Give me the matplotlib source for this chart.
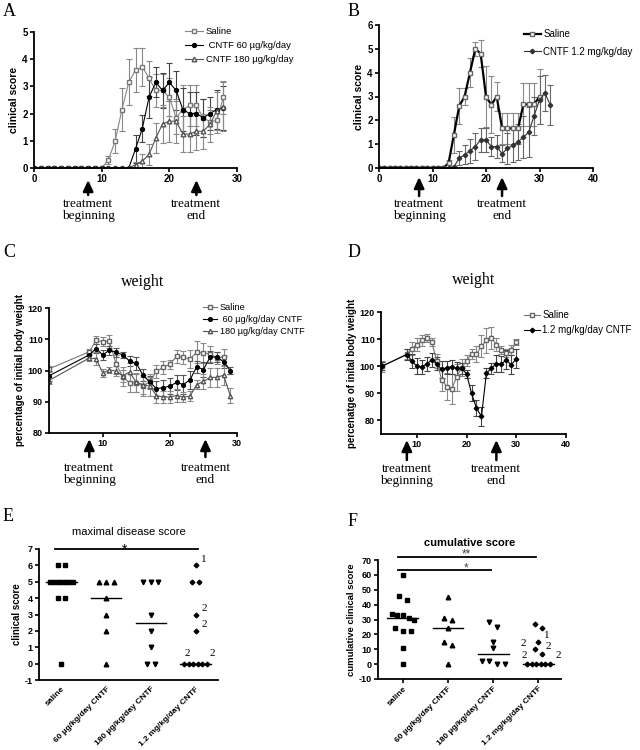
import numpy as np
import matplotlib
matplotlib.use('Agg')
import matplotlib.pyplot as plt
from matplotlib.transforms import blended_transform_factory

plt.rcParams['font.family'] = ['Liberation Sans', 'DejaVu Sans']
SERIF = ['Liberation Serif', 'DejaVu Serif']

# ---------------- Panel A: clinical score ----------------
A_days = np.arange(0, 29)
A_saline = [0, 0, 0, 0, 0, 0, 0, 0, 0, 0, 0, 0.3, 1.0, 2.15, 3.15, 3.6, 3.72, 3.3, 2.85, 2.85,
            2.6, 1.85, 2.15, 2.3, 2.3, 1.85, 1.7, 1.75, 2.6]
A_saline_err = [0, 0, 0, 0, 0, 0, 0, 0, 0, 0, 0, 0.15, 0.45, 0.8, 0.85, 0.8, 0.7, 0.65, 0.6, 0.6,
                0.7, 0.6, 0.9, 0.75, 0.75, 0.7, 0.45, 0.45, 0.6]
A_c60 = [0, 0, 0, 0, 0, 0, 0, 0, 0, 0, 0, 0, 0, 0, 0, 0.7, 1.45, 2.6, 3.15, 2.85, 3.15, 2.85,
         2.15, 2.0, 2.0, 1.85, 2.0, 2.15, 2.2]
A_c60_err = [0, 0, 0, 0, 0, 0, 0, 0, 0, 0, 0, 0, 0, 0, 0, 0.5, 0.5, 0.75, 0.55, 0.65, 0.7, 0.7,
             0.8, 0.8, 0.8, 0.7, 0.6, 0.7, 0.8]
A_c180 = [0, 0, 0, 0, 0, 0, 0, 0, 0, 0, 0, 0, 0, 0, 0, 0.12, 0.25, 0.5, 1.1, 1.62, 1.72, 1.72,
          1.25, 1.25, 1.35, 1.35, 1.6, 2.1, 2.25]
A_c180_err = [0, 0, 0, 0, 0, 0, 0, 0, 0, 0, 0, 0, 0, 0, 0, 0.1, 0.25, 0.4, 0.55, 0.7, 0.75, 0.8,
              0.65, 0.65, 0.7, 0.65, 0.65, 0.7, 0.9]
A_labels = ['Saline', ' CNTF 60 µg/kg/day', 'CNTF 180 µg/kg/day']

# ---------------- Panel B: clinical score ----------------
B_days_saline = np.arange(0, 31)
B_saline = [0, 0, 0, 0, 0, 0, 0, 0, 0, 0, 0, 0, 0, 0.2, 1.4, 2.6, 3.0, 4.0, 5.0, 4.8, 3.0, 2.65,
            3.0, 1.67, 1.67, 1.67, 1.67, 2.67, 2.67, 2.67, 3.0]
B_saline_err = [0, 0, 0, 0, 0, 0, 0, 0, 0, 0, 0, 0, 0, 0.15, 0.75, 0.75, 0.35, 0.6, 0.3, 0.55,
                1.3, 1.2, 0.6, 0.65, 0.65, 0.65, 0.65, 0.9, 0.9, 0.9, 1.15]
B_days_cntf = np.arange(0, 33)
B_cntf = [0, 0, 0, 0, 0, 0, 0, 0, 0, 0, 0, 0, 0, 0, 0.05, 0.42, 0.55, 0.72, 0.9, 1.18, 1.18, 0.9,
          0.9, 0.6, 0.82, 0.95, 1.1, 1.3, 1.5, 2.2, 2.85, 3.15, 2.65]
B_cntf_err = [0, 0, 0, 0, 0, 0, 0, 0, 0, 0, 0, 0, 0, 0, 0.05, 0.3, 0.4, 0.5, 0.55, 0.5, 0.5, 0.4,
              0.5, 0.35, 0.65, 0.7, 0.75, 0.9, 1.05, 0.8, 1.0, 0.75, 0.85]
B_labels = ['Saline', 'CNTF 1.2 mg/kg/day']

# ---------------- Panel C: weight ----------------
C_days_saline = [2, 8, 9, 10, 11, 12, 13, 14, 15, 16, 17, 18, 19, 20, 21, 22, 23, 24, 25, 26, 27, 28]
C_days_cntf = [2, 8, 9, 10, 11, 12, 13, 14, 15, 16, 17, 18, 19, 20, 21, 22, 23, 24, 25, 26, 27, 28, 29]
C_saline = [100.5, 106, 109.7, 109.2, 109.3, 102, 98, 96, 96, 95, 96.5, 99.7, 101, 102, 104.5,
            104.2, 103.7, 105.8, 105.6, 105.3, 104, 104.3]
C_saline_err = [1, 0.8, 1.2, 1.5, 2, 3, 3, 3, 3, 3, 2.5, 2, 2, 1.5, 2, 2, 3, 3.5, 3.2, 2.5, 2, 2.5]
C_c60 = [98.3, 105, 107, 105, 106.5, 105.8, 105, 103, 102.3, 98.5, 96.3, 94.2, 94.5, 95, 96.2,
         95.5, 97, 101.2, 100.3, 104.3, 104.3, 102.8, 100]
C_c60_err = [1.5, 1, 1.5, 1.5, 1.5, 1.5, 1, 1.5, 2, 2, 2, 2.5, 2.5, 2.5, 2.5, 3, 3, 2, 2.5, 2,
             1.5, 2, 1.2]
C_c180 = [96.8, 104, 103.8, 99.2, 100.2, 99.8, 98.3, 99.5, 96.2, 95.5, 95, 92, 91.5, 91.5, 92,
          91.5, 91.8, 95.5, 96.5, 97.8, 97.8, 98.5, 92]
C_c180_err = [1, 1, 2, 1.2, 1, 1.5, 2, 3, 3, 3, 3, 2.5, 2, 2, 2, 1.5, 1.5, 1.5, 2.5, 3, 3, 3, 2.5]
C_labels = ['Saline', ' 60 µg/kg/day CNTF', '180 µg/kg/day CNTF']

# ---------------- Panel D: weight ----------------
D_days = [3, 8, 9, 10, 11, 12, 13, 14, 15, 16, 17, 18, 19, 20, 21, 22, 23, 24, 25, 26, 27, 28, 29, 30]
D_saline = [100, 104.5, 106.5, 108, 109.5, 110.5, 109, 102, 95, 92.5, 91.5, 96, 99.5, 102, 104.5,
            104.5, 107.5, 109.5, 110.5, 108, 106, 105, 106, 109]
D_saline_err = [2, 2, 2.5, 2.5, 2, 1.5, 1.5, 2.5, 4, 5, 5.5, 5, 3, 2, 2, 3, 4, 4.5, 4, 2.5, 1.5,
                1.5, 2, 1]
D_cntf = [100, 104.3, 102, 100, 99.8, 100.8, 102.3, 101, 98.8, 99.5, 99.8, 99.2, 99.2, 97.2, 90,
          84.5, 81.5, 97.5, 99.2, 101, 100.8, 102.3, 100.5, 102.8]
D_cntf_err = [1.5, 2, 2.5, 3, 2.5, 2.5, 2.5, 2.5, 3, 2.5, 2.5, 2.5, 2, 1.5, 3, 3, 3.5, 2, 2, 3, 3,
              3.5, 3.5, 3.5]
D_labels = ['Saline', '1.2 mg/kg/day CNTF']

# ---------------- Panels E, F: dot plots ----------------
groups = ['saline', '60 µg/kg/day CNTF', '180 µg/kg/day CNTF', '1.2 mg/kg/day CNTF']
E_saline = [6, 6, 5, 5, 5, 5, 5, 5, 5, 5, 4, 4, 0]
E_c60 = [5, 5, 5, 4, 3, 2, 0]
E_c180 = [5, 5, 5, 3, 2, 1, 0, 0]
E_c12 = [6, 5, 5, 3, 2, 0, 0, 0, 0, 0, 0]
E_medians = [5, 4, 2.5, 0]

F_saline = [60, 46, 43, 34, 33, 33, 31, 30, 24, 22, 22, 11, 0]
F_c60 = [45, 31, 30, 24, 15, 13, 0]
F_c180 = [28, 25, 15, 11, 2, 2, 0, 0]
F_c12 = [27, 24, 15, 10, 7, 0, 0, 0, 0, 0, 0]
F_medians = [31, 24, 6.5, 0]

# annotations: (group index, value, text, dx pts, dy pts)
E_notes = [(3, 6, '1', 4, 1), (3, 3, '2', 4, 1), (3, 2, '2', 4, 1), (3, 0, '2', -4, 4), (3, 0, '2', 10, 4)]
F_notes = [(3, 15, '1', 4, 1), (3, 10, '2', -9, 1), (3, 7, '2', 5, 2), (3, 0, '2', -8, 3), (3, 0, '2', 12, 3)]

W, H = 640, 750
fig = plt.figure(figsize=(W / 100, H / 100), dpi=100)


def px_axes(l, t, r, b):
    return fig.add_axes([l / W, 1 - b / H, (r - l) / W, (b - t) / H])


def style(ax, xt, yt, xlim, ylim, size=6.8):
    for s in ['top', 'right']:
        ax.spines[s].set_visible(False)
    for s in ['left', 'bottom']:
        ax.spines[s].set_linewidth(1.3)
    ax.set_xlim(*xlim)
    ax.set_ylim(*ylim)
    ax.tick_params(direction='out', length=3, width=1.2, pad=1.5)
    if xt is not None:
        ax.set_xticks(xt)
        ax.set_xticklabels([str(v) for v in xt], fontweight='bold', fontsize=size)
    ax.set_yticks(yt)
    ax.set_yticklabels([str(v) for v in yt], fontweight='bold', fontsize=size)


def arrows(ax, xs, texts, head, tail, toptext):
    trans = blended_transform_factory(ax.transData, ax.transAxes)
    hpx = ax.get_position().height * H
    for x, t in zip(xs, texts):
        ax.annotate('', xy=(x, -head / hpx), xycoords=trans, xytext=(x, -tail / hpx), textcoords=trans,
                    arrowprops=dict(arrowstyle='-|>,head_length=0.65,head_width=0.3', color='k', lw=1.8,
                                    mutation_scale=10, shrinkA=0, shrinkB=0), annotation_clip=False)
        ax.text(x, -toptext / hpx, t, transform=trans, ha='center', va='top', family=SERIF,
                fontsize=9.5, linespacing=1.05)


def legend(ax, handles, labels, lx, ty, size, hl, spacing):
    ax.legend(handles, labels, loc='upper left', bbox_to_anchor=(lx / W, 1 - ty / H),
              bbox_transform=fig.transFigure, frameon=False, fontsize=size, handlelength=hl,
              handletextpad=0.3, borderpad=0, borderaxespad=0, labelspacing=spacing, numpoints=1)


eb = dict(capsize=2, elinewidth=0.8, capthick=0.8)
TT = ['treatment\nbeginning', 'treatment\nend']

# ---- A ----
axA = px_axes(34, 32, 237, 168)
a1 = axA.errorbar(A_days, A_saline, yerr=A_saline_err, color='#888888', marker='s', ms=3.3, mfc='white',
                  mec='#777777', lw=0.8, ecolor='#888888', **eb)
a2 = axA.errorbar(A_days, A_c60, yerr=A_c60_err, color='black', marker='o', ms=2.8, lw=0.8,
                  ecolor='#444444', **eb)
a3 = axA.errorbar(A_days, A_c180, yerr=A_c180_err, color='#555555', marker='^', ms=3.3, mfc='white',
                  mec='#555555', lw=0.8, ecolor='#888888', **eb)
style(axA, [0, 10, 20, 30], [0, 1, 2, 3, 4, 5], (0, 30), (0, 5), 7)
axA.set_ylabel('clinical score', fontweight='bold', fontsize=7.5, labelpad=2)
legend(axA, [a1[0], a2[0], a3[0]], A_labels, 185, 27, 6.8, 1.9, 0.55)
arrows(axA, [8, 24], TT, 12, 27, 30)

# ---- B ----
axB = px_axes(379, 25, 593, 168)
b1 = axB.errorbar(B_days_saline, B_saline, yerr=B_saline_err, color='black', marker='s', ms=3.3,
                  mfc='white', mec='#666666', lw=1.6, ecolor='#888888', **eb)
b2 = axB.errorbar(B_days_cntf, B_cntf, yerr=B_cntf_err, color='#333333', marker='D', ms=2.3, lw=0.8,
                  ecolor='#666666', **eb)
style(axB, [0, 10, 20, 30, 40], [0, 1, 2, 3, 4, 5, 6], (0, 40), (0, 6), 7)
axB.set_ylabel('clinical score', fontweight='bold', fontsize=7.5, labelpad=2)
legend(axB, [b1[0], b2[0]], B_labels, 524, 29, 7, 1.7, 0.8)
arrows(axB, [7.5, 23], TT, 9, 28, 30)

# ---- C ----
axC = px_axes(49, 308, 237, 433)
c1 = axC.errorbar(C_days_saline, C_saline, yerr=C_saline_err, color='#777777', marker='s', ms=3.1,
                  mfc='white', mec='#666666', lw=0.8, ecolor='#888888', **eb)
c2 = axC.errorbar(C_days_cntf, C_c60, yerr=C_c60_err, color='black', marker='o', ms=2.7, lw=0.8,
                  ecolor='#555555', **eb)
c3 = axC.errorbar(C_days_cntf, C_c180, yerr=C_c180_err, color='#555555', marker='^', ms=3.1, mfc='white',
                  mec='#555555', lw=0.8, ecolor='#888888', **eb)
style(axC, [10, 20, 30], [80, 90, 100, 110, 120], (2, 30), (80, 120), 6.5)
axC.set_ylabel('percentage of initial body weight', fontweight='bold', fontsize=7, labelpad=2)
axC.set_title('weight', family=SERIF, fontsize=11.5, pad=16)
legend(axC, [c1[0], c2[0], c3[0]], C_labels, 203, 303, 6.6, 1.5, 0.35)
arrows(axC, [8, 25.3], TT, 6, 24, 29)

# ---- D ----
axD = px_axes(381, 312, 566, 434)
d1 = axD.errorbar(D_days, D_saline, yerr=D_saline_err, color='#777777', marker='s', ms=3.1, mfc='white',
                  mec='#666666', lw=0.8, ecolor='#888888', **eb)
d2 = axD.errorbar(D_days, D_cntf, yerr=D_cntf_err, color='black', marker='D', ms=2.3, lw=0.8,
                  ecolor='#444444', **eb)
style(axD, [10, 20, 30, 40], [80, 90, 100, 110, 120], (2.8, 40), (75, 120), 6.5)
axD.set_ylabel('percenatge of inital body weight', fontweight='bold', fontsize=7, labelpad=2)
axD.set_title('weight', family=SERIF, fontsize=11.5, pad=20)
legend(axD, [d1[0], d2[0]], D_labels, 524, 310, 7, 1.6, 0.55)
arrows(axD, [8, 26], TT, 6, 26, 29)


# ---- E, F helpers ----
def swarm(vals, tol, d, maxw):
    vals = np.asarray(vals, float)
    order = np.argsort(-vals, kind='stable')
    offs = np.zeros(len(vals))
    grps, cur = [], [order[0]]
    for i in order[1:]:
        if vals[cur[-1]] - vals[i] <= tol:
            cur.append(i)
        else:
            grps.append(cur)
            cur = [i]
    grps.append(cur)
    for g in grps:
        n = len(g)
        step = d if n < 2 else min(d, maxw / (n - 1))
        for k, idx in enumerate(g):
            offs[idx] = (k - (n - 1) / 2) * step
    return offs


markers = ['s', '^', 'v', 'D']
msizes = [3.0, 3.3, 3.3, 2.4]


def dotplot(ax, data, medians, tol, notes):
    for i, vals in enumerate(data):
        offs = swarm(vals, tol, 0.17, 0.5)
        ax.plot(i + offs, vals, ls='none', marker=markers[i], ms=msizes[i], color='black')
        ax.plot([i - 0.34, i + 0.34], [medians[i], medians[i]], color='black', lw=1)
    for gi, v, t, dx, dy in notes:
        ax.annotate(t, xy=(gi, v), xytext=(dx, dy), textcoords='offset points', family=SERIF,
                    fontsize=8, ha='left' if dx > 0 else 'right', va='bottom')
    ax.set_xticks(range(len(groups)))
    ax.set_xticklabels(groups, rotation=45, ha='right', rotation_mode='anchor', fontweight='bold',
                       fontsize=6)


# ---- E ----
axE = px_axes(39, 549, 218, 680)
dotplot(axE, [E_saline, E_c60, E_c180, E_c12], E_medians, 0.5, E_notes)
style(axE, None, [-1, 0, 1, 2, 3, 4, 5, 6, 7], (-0.5, 3.5), (-1, 7), 6.5)
axE.tick_params(axis='x', length=0, pad=4)
axE.set_ylabel('clinical score', fontweight='bold', fontsize=7, labelpad=2)
axE.set_title('maximal disease score', fontsize=8, pad=10)
axE.plot([-0.15, 3.05], [7, 7], color='black', lw=1.3, clip_on=False)
axE.text(1.4, 6.7, '*', ha='center', va='baseline', fontsize=10, clip_on=False)

# ---- F ----
axF = px_axes(378, 560, 561, 679)
dotplot(axF, [F_saline, F_c60, F_c180, F_c12], F_medians, 3.5, F_notes)
style(axF, None, [-10, 0, 10, 20, 30, 40, 50, 60, 70], (-0.55, 3.5), (-10, 70), 6.5)
axF.tick_params(axis='x', length=3, pad=1.5)
axF.set_ylabel('cumulative clinical score', fontweight='bold', fontsize=6.8, labelpad=2)
axF.set_title('cumulative score', fontsize=8, fontweight='bold', pad=10)
axF.plot([-0.1, 2.95], [72, 72], color='black', lw=1.3, clip_on=False)
axF.plot([-0.1, 1.94], [63.5, 63.5], color='black', lw=1.3, clip_on=False)
axF.text(1.4, 71.5, '**', ha='center', va='baseline', fontsize=8.5, color='#444444', clip_on=False)
axF.text(1.4, 62.3, '*', ha='center', va='baseline', fontsize=8.5, color='#444444', clip_on=False)

# ---- panel letters ----
for lab, x, y in [('A', 3, 3), ('B', 348, 3), ('C', 3, 244), ('D', 348, 244), ('E', 3, 508), ('F', 348, 513)]:
    fig.text(x / W, 1 - y / H, lab, family=SERIF, fontsize=13, ha='left', va='top')

fig.savefig('out.png', dpi=100)
